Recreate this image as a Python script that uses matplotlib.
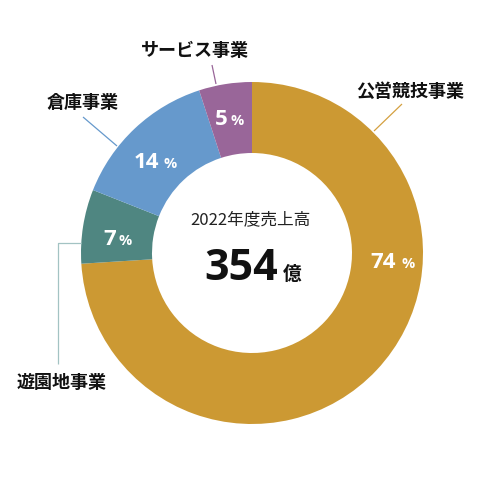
import matplotlib
matplotlib.use("Agg")
import matplotlib.pyplot as plt

# ---- data ----
categories = ["公営競技事業", "遊園地事業", "倉庫事業", "サービス事業"]
shares = [74, 7, 14, 5]
pct_labels = ["74", "7", "14", "5"]
center_title = "2022年度売上高"
center_value = "354"
center_unit = "億"

colors = ["#CC9933", "#4F8681", "#6699CC", "#996699"]
line_colors = ["#D4A040", "#A3C3C3", "#6699CC", "#996699"]

W, H = 496, 481
CX, CY = 252, 254


def P(x, y):
    """pixel (from top-left) -> data coords centred on the donut"""
    return (x - CX, CY - y)


fig = plt.figure(figsize=(W / 100, H / 100), dpi=100)
ax = fig.add_axes([0, 0, 1, 1])
ax.pie(shares, colors=colors, startangle=90, counterclock=False,
       radius=171, center=(0, 0),
       wedgeprops=dict(width=71, edgecolor="none", linewidth=0))
ax.set_xlim(-CX, W - CX)
ax.set_ylim(-(H - CY), CY)
ax.set_aspect("equal")
ax.axis("off")

FONT = ["Noto Sans CJK JP", "DejaVu Sans"]
NUMFONT = ["Open Sans", "Noto Sans CJK JP", "DejaVu Sans"]

# category labels (layout positions in pixels)
cat_pos = [(410, 91), (62, 383), (83, 103), (195, 51)]
for name, (x, y) in zip(categories, cat_pos):
    ax.text(*P(x, y), name, ha="center", va="center", fontsize=13,
            fontweight="bold", family=FONT, color="#111111")

# leader lines
leaders = [
    [(402, 105), (374, 132)],
    [(58, 365), (58, 244), (81, 244)],
    [(83, 118), (117, 147)],
    [(212, 66), (216, 85)],
]
for pts, c in zip(leaders, line_colors):
    xs = [P(*p)[0] for p in pts]
    ys = [P(*p)[1] for p in pts]
    ax.plot(xs, ys, color=c, lw=0.9, solid_capstyle="butt")

# percentage labels: (number right edge, % left edge, baseline)
pct_pos = [(396, 402, 268), (116, 118, 245), (159, 163, 168), (228, 230, 125)]
for lab, (xr, xl, yb) in zip(pct_labels, pct_pos):
    ax.text(*P(xr, yb), lab, ha="right", va="baseline", fontsize=16,
            fontweight="bold", family=NUMFONT, color="white")
    ax.text(*P(xl, yb), "%", ha="left", va="baseline", fontsize=10.5,
            fontweight="bold", family=NUMFONT, color="white")

# centre text
ax.text(*P(250, 220), center_title, ha="center", va="center", fontsize=12,
        family=FONT, color="#222222")
ax.text(*P(241, 280), center_value, ha="center", va="baseline", fontsize=31,
        fontweight="bold", family=NUMFONT, color="#111111")
ax.text(*P(283, 280), center_unit, ha="left", va="baseline", fontsize=13.5,
        fontweight="bold", family=FONT, color="#111111")

fig.savefig("out.png", dpi=100, facecolor="white")
